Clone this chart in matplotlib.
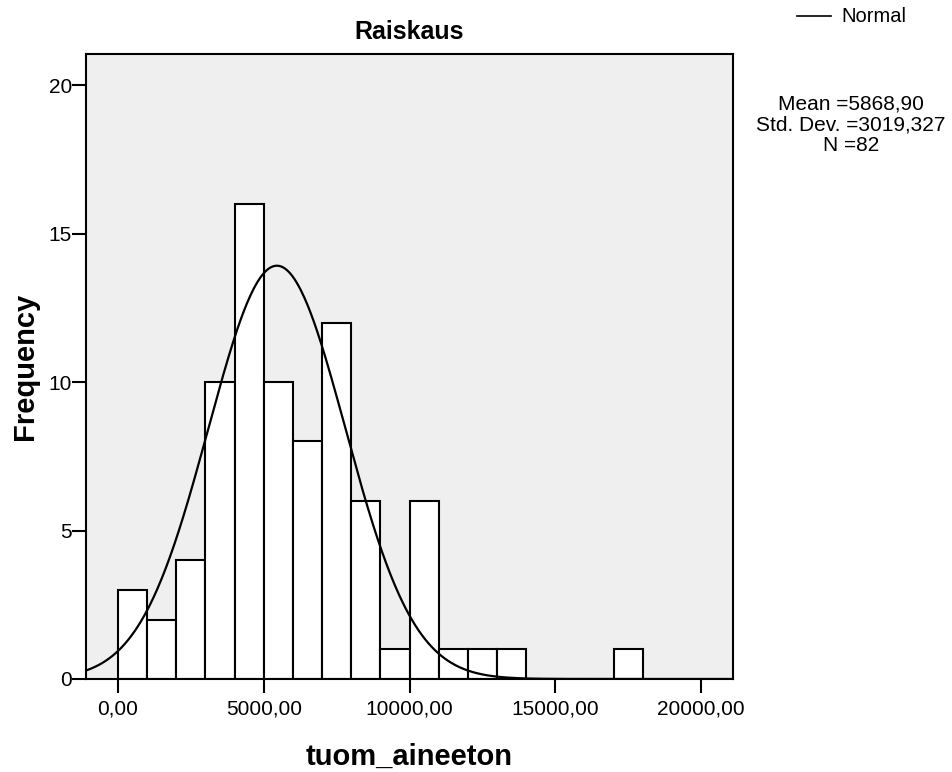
import matplotlib
matplotlib.use('Agg')
import matplotlib.pyplot as plt
import numpy as np

plt.rcParams['font.family'] = ['Liberation Sans', 'DejaVu Sans']

# histogram bins (left edges) and counts, bin width 1000
bin_left = [0, 1000, 2000, 3000, 4000, 5000, 6000, 7000, 8000, 9000,
            10000, 11000, 12000, 13000, 14000, 15000, 16000, 17000]
counts = [3, 2, 4, 10, 16, 10, 8, 12, 6, 1, 6, 1, 1, 1, 0, 0, 0, 1]
bin_width = 1000

# normal curve as drawn in the picture
curve_mean = 5450
curve_sd = 2350
n_total = 82

stats_text = 'Mean =5868,90\nStd. Dev. =3019,327\nN =82'
xticks = [0, 5000, 10000, 15000, 20000]
xticklabels = ['0,00', '5000,00', '10000,00', '15000,00', '20000,00']
yticks = [0, 5, 10, 15, 20]

fig = plt.figure(figsize=(9.52, 7.72), dpi=100)
ax = fig.add_axes([86/952, 1-679/772, (733-86)/952, (679-54)/772])
ax.set_facecolor('#EFEFEF')

ax.bar(bin_left, counts, width=bin_width, align='edge',
       color='white', edgecolor='black', linewidth=1.5, zorder=2)

xlo, xhi = -1100, 21100
xs = np.linspace(xlo, xhi, 600)
ys = n_total * bin_width / (curve_sd * np.sqrt(2*np.pi)) * np.exp(-0.5*((xs-curve_mean)/curve_sd)**2)
ax.plot(xs, ys, color='black', linewidth=1.6, zorder=3)

ax.set_xlim(xlo, xhi)
ax.set_ylim(0, 21.05)
ax.set_xticks(xticks)
ax.set_xticklabels(xticklabels)
ax.set_yticks(yticks)

for s in ax.spines.values():
    s.set_linewidth(1.5)
    s.set_color('black')
ax.tick_params(axis='x', direction='out', length=10, width=1.5, labelsize=15, pad=5)
ax.tick_params(axis='y', direction='out', length=10, width=1.5, labelsize=15, pad=0)

ax.set_title('Raiskaus', fontsize=18, fontweight='bold', pad=11)
ax.set_xlabel('tuom_aineeton', fontsize=21, fontweight='bold', labelpad=17)
ax.set_ylabel('Frequency', fontsize=21, fontweight='bold', labelpad=7)

# legend line and stats text
fig.add_artist(plt.Line2D([797/952, 831/952], [1-16/772, 1-16/772],
                          color='black', linewidth=1.2))
fig.text(841/952, 1-16/772, 'Normal', fontsize=14.5, va='center', ha='left')
fig.text(851/952, 1-125/772, stats_text, fontsize=15, ha='center', va='center',
         linespacing=1.12)

fig.savefig('out.png', dpi=100)
